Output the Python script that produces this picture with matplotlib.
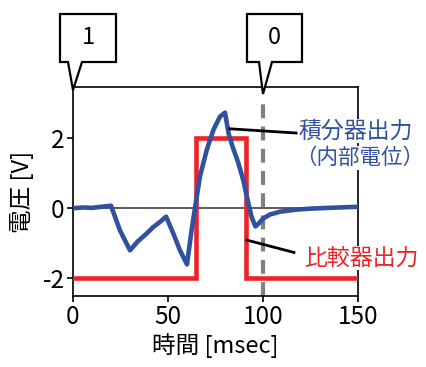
import matplotlib
matplotlib.use("Agg")
import matplotlib.pyplot as plt
from matplotlib.patches import Polygon

plt.rcParams['font.family'] = ['Noto Sans CJK JP', 'DejaVu Sans']
plt.rcParams['lines.scale_dashes'] = False

# Data
t_int = [0, 5, 10, 15, 20, 24.7, 30, 34, 38.8, 42, 45.8, 49, 52.8, 56.3, 60,
         62.4, 64.2, 66.8, 70.4, 73.9, 77.4, 80, 82, 84, 87, 89.6, 92.3, 94, 96,
         98, 100.2, 103.7, 109, 117.7, 126, 135, 150]
v_int = [0.0, 0.02, 0.01, 0.04, 0.07, -0.63, -1.2, -0.95, -0.72, -0.55, -0.39, -0.24, -0.72, -1.2, -1.6,
         -0.63, 0.0, 0.9, 1.66, 2.23, 2.61, 2.72, 2.1, 1.75, 1.29, 0.8, 0.14, -0.25, -0.52,
         -0.42, -0.29, -0.18, -0.1, -0.04, -0.01, 0.01, 0.04]
t_cmp = [0, 65, 65, 91, 91, 150]
v_cmp = [-2, -2, 2, 2, -2, -2]
x_ticks = [0, 50, 100, 150]
y_ticks = [-2, 0, 2]
marker_t = 100

blue = '#3050A0'
red = '#EE2328'

fig = plt.figure(figsize=(4.27, 3.67), dpi=100)
W, H = 427, 367
ax = fig.add_axes([73 / W, 1 - 296 / H, (358 - 73) / W, (296 - 87) / H])
ax.set_xlim(0, 150)
ax.set_ylim(-2.5, 3.45)

ax.axhline(0, color='#404040', lw=1.2, zorder=1)
ax.plot([marker_t, marker_t], [-2.5, 3.1], color='#808080', lw=3, dashes=(10, 6), zorder=2)
ax.plot(t_cmp, v_cmp, color=red, lw=3.3, zorder=3, solid_joinstyle='miter')
ax.plot(t_int, v_int, color=blue, lw=3.3, zorder=4, solid_joinstyle='round')

ax.set_xticks(x_ticks)
ax.set_yticks(y_ticks)
ax.set_yticklabels([str(v) for v in y_ticks])
ax.tick_params(direction='out', length=4, width=1.2, labelsize=17.5, pad=2)
for s in ax.spines.values():
    s.set_linewidth(1.2)

ax.set_xlabel('時間 [msec]', fontsize=17, labelpad=2)
ax.set_ylabel('電圧 [V]', fontsize=17, labelpad=6)

# annotation leader lines
ax.plot([82.6, 117.4], [2.26, 2.14], color='black', lw=2, zorder=5, clip_on=False)
ax.plot([91.6, 116.3], [-0.91, -1.26], color='black', lw=2, zorder=5, clip_on=False)

bb = dict(facecolor='white', edgecolor='none', pad=0.5)
fig.text(356 / W, 1 - 131 / H, '積分器出力', color=blue, fontsize=16.5, ha='center', va='center', bbox=bb, zorder=10)
fig.text(360 / W, 1 - 158 / H, '（内部電位）', color=blue, fontsize=15.5, ha='center', va='center', bbox=bb, zorder=10)
fig.text(361 / W, 1 - 258 / H, '比較器出力', color=red, fontsize=16.5, ha='center', va='center', bbox=bb, zorder=10)

# callouts
def px(x, y):
    return (x / W, 1 - y / H)

c1 = [(60, 14), (116, 14), (116, 62), (82, 62), (73, 90), (68, 62), (60, 62)]
c0 = [(247, 14), (302, 14), (302, 62), (272, 62), (263, 94), (259, 62), (247, 62)]
for pts, label, cx in [(c1, '1', 88), (c0, '0', 274.5)]:
    poly = Polygon([px(*p) for p in pts], closed=True, transform=fig.transFigure,
                   facecolor='white', edgecolor='black', lw=1.6, zorder=20, joinstyle='miter')
    fig.add_artist(poly)
    fig.text(cx / W, 1 - 38 / H, label, fontsize=17, ha='center', va='center', zorder=21)

fig.savefig('out.png', dpi=100)
